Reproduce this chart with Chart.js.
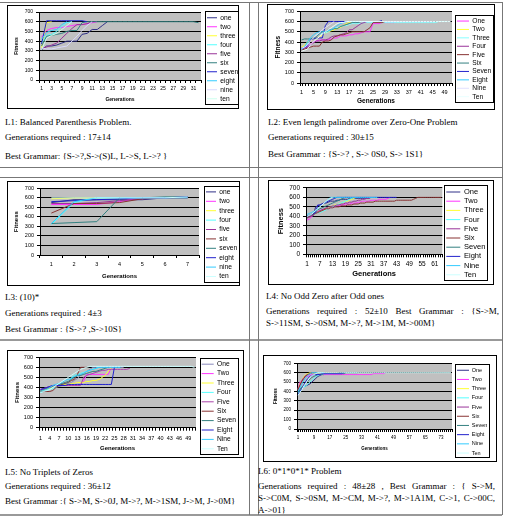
<!DOCTYPE html>
<html>
<head>
<meta charset="utf-8">
<script src="https://cdn.jsdelivr.net/npm/chart.js@4.4.1/dist/chart.umd.min.js"></script>
<style>
  body { margin: 0; width: 506px; height: 519px; background: #fff; position: relative; overflow: hidden;
         font-family: "Liberation Serif", "Times New Roman", serif; }
  .hl { position: absolute; height: 0; border-top: 1px solid #777; }
  .vl { position: absolute; width: 0; border-left: 1px solid #777; }
  .frame { position: absolute; border: 1px solid #000; background: #fff; box-sizing: border-box; }
  canvas { position: absolute; }
  .t { position: absolute; font-size: 9px; line-height: 11px; white-space: nowrap; color: #000; }
  .j { text-align: justify; text-align-last: justify; }
</style>
</head>
<body>

<!-- table rules -->
<div class="hl" style="left:0;top:2px;width:502px"></div>
<div class="hl" style="left:0;top:167px;width:502px"></div>
<div class="hl" style="left:0;top:177px;width:502px"></div>
<div class="hl" style="left:0;top:339px;width:502px;border-top:2px solid #999"></div>
<div class="hl" style="left:0;top:514px;width:502px;border-top:2px solid #999"></div>
<div class="vl" style="left:249px;top:2px;height:513px"></div>
<div class="vl" style="left:258px;top:2px;height:513px"></div>
<div class="vl" style="left:502px;top:2px;height:513px"></div>

<!-- chart frames -->
<div class="frame" style="left:7px;top:5px;width:232px;height:104px"></div>
<div class="frame" style="left:267px;top:4px;width:228px;height:106px"></div>
<div class="frame" style="left:7px;top:181px;width:233px;height:105px"></div>
<div class="frame" style="left:268px;top:180px;width:226px;height:105px"></div>
<div class="frame" style="left:7px;top:350px;width:237px;height:108px"></div>
<div class="frame" style="left:263px;top:355px;width:234px;height:107px"></div>

<canvas id="c1"></canvas>
<canvas id="c2"></canvas>
<canvas id="c3"></canvas>
<canvas id="c4"></canvas>
<canvas id="c5"></canvas>
<canvas id="c6"></canvas>

<!-- captions -->
<div class="t" style="left:5px;top:116.5px">L1: Balanced Parenthesis Problem.</div>
<div class="t" style="left:5px;top:131.5px">Generations required : 17±14</div>
<div class="t" style="left:5px;top:150.5px">Best Grammar: {S-&gt;?,S-&gt;(S)L, L-&gt;S, L-&gt;? }</div>

<div class="t" style="left:268px;top:116.5px">L2: Even length palindrome over Zero-One Problem</div>
<div class="t" style="left:268px;top:131.5px">Generations required : 30±15</div>
<div class="t" style="left:268px;top:148.5px">Best Grammar : {S-&gt;? , S-&gt; 0S0, S-&gt; 1S1}</div>

<div class="t" style="left:5px;top:291.5px">L3: (10)*</div>
<div class="t" style="left:5px;top:307.5px">Generations required : 4±3</div>
<div class="t" style="left:5px;top:323.5px">Best Grammar : {S-&gt;? ,S-&gt;10S}</div>

<div class="t" style="left:266px;top:290.5px">L4: No Odd Zero after Odd ones</div>
<div class="t j" style="left:266px;top:305.5px;width:233px">Generations required : 52±10 Best Grammar : {S-&gt;M,</div>
<div class="t" style="left:266px;top:317.5px">S-&gt;11SM, S-&gt;0SM, M-&gt;?, M-&gt;1M, M-&gt;00M}</div>

<div class="t" style="left:5px;top:466.5px">L5: No Triplets of Zeros</div>
<div class="t" style="left:5px;top:480.5px">Generations required : 36±12</div>
<div class="t" style="left:5px;top:495.5px">Best Grammar :{ S-&gt;M, S-&gt;0J, M-&gt;?, M-&gt;1SM, J-&gt;M, J-&gt;0M}</div>

<div class="t" style="left:258px;top:465.5px">L6: 0*1*0*1* Problem</div>
<div class="t j" style="left:258px;top:480.5px;width:237px">Generations required : 48±28 , Best Grammar : { S-&gt;M,</div>
<div class="t j" style="left:258px;top:492.5px;width:237px">S-&gt;C0M, S-&gt;0SM, M-&gt;CM, M-&gt;?, M-&gt;1A1M, C-&gt;1, C-&gt;00C,</div>
<div class="t" style="left:258px;top:504.5px">A-&gt;01}</div>

<script>
// ---------- data ----------
const lowerNames = ['one', 'two', 'three', 'four', 'five', 'six', 'seven', 'eight', 'nine', 'ten'];
const upperNames = ['One', 'Two', 'Three', 'Four', 'Five', 'Six', 'Seven', 'Eight', 'Nine', 'Ten'];
const yTicks = [0, 100, 200, 300, 400, 500, 600, 700];

// L1
const l1Count = 32;
const l1Ticks = ['1', '3', '5', '7', '9', '11', '13', '15', '17', '19', '21', '23', '25', '27', '29', '31'];
const l1Values = [
  [310, 350, 350, 360, 380, 400, 400, 400, 470, 480, 520, 520, 560, 600],
  [440, 510, 530, 540, 540, 550, 560, 570, 570, 580, 590, 600],
  [330, 590, 600],
  [380, 460, 470, 500, 550, 590, 600],
  [320, 340, 360, 380, 430, 480, 530, 570, 570, 580, 600],
  [350, 450, 460, 470, 480, 500, 510, 510, 590,
   600, 600, 600, 600, 600, 600, 600, 600, 600, 600,
   600, 600, 600, 600, 600, 600, 600, 600, 600, 600,
   600, 600, 590],
  [370, 610, 610, 610, 610, 610, 610, 610, 610, 600],
  [420, 490, 510, 520, 570, 600],
  [330, 320, 320, 330, 340, 350, 400, 450, 510, 560, 600],
  [310, 430, 460, 480, 520, 560, 600]
];

// L2
const l2Count = 51;
const l2Ticks = ['1', '5', '9', '13', '17', '21', '25', '29', '33', '37', '41', '45', '49'];
const l2Values = [
  [330, 340, 350, 380, 400, 410, 420, 420, 420, 420, 430, 440, 440, 460, 460, 460, 470, 470, 480, 480,
   490, 500, 500, 500, 580, 580, 580, 590, 590, 590, 590, 590, 600],
  [350, 370, 400, 410, 430, 440, 450, 470, 490, 500, 510, 520, 530, 540, 560, 580, 590, 600],
  [320, 360, 380, 420, 440, 470, 480, 480, 490, 500, 520, 540, 540, 550, 560, 560, 570, 580, 580, 580,
   580, 590, 590, 590, 590, 590, 590, 590, 590, 590, 590, 590, 590, 590, 590, 590, 590, 590, 590, 590,
   590, 590, 590, 590, 590, 590, 600, 600, 600, 600],
  [330, 340, 350, 370, 390, 410, 410, 420, 420, 430, 450, 460, 460, 470, 480, 490, 520, 520, 540, 560,
   580, 590, 600, 600, 600, 600, 600, 600, 600, 600, 600, 600, 600, 600, 600, 600, 600, 600, 600, 600,
   600, 600, 600, 600, 600],
  [320, 330, 340, 350, 360, 360, 360, 400, 410, 410, 420, 450, 460, 470, 470, 480, 490, 500, 500, 500,
   500, 500, 520, 540, 590, 590, 590, 590, 600],
  [420, 430, 430, 430, 440, 450, 480, 500, 500, 520, 520, 530, 530, 550, 560, 570, 580, 590, 590, 590, 600],
  [340, 350, 360, 420, 430, 440, 440, 440, 560, 600, 600, 600, 600, 600, 600, 600, 600, 600, 600, 600,
   600, 600, 600, 600, 600, 600, 600, 610],
  [330, 350, 400, 440, 470, 490, 500, 500, 500, 510, 520, 540, 560, 580, 590, 600, 600, 600, 600, 600,
   600, 600, 600, 600, 600, 600],
  [340, 350, 370, 410, 440, 470, 490, 520, 540, 560, 580, 600],
  [310, 320, 330, 370, 400, 430, 450, 480, 500, 520, 540, 560, 580, 590, 590, 600, 600, 600, 600, 600,
   600, 600, 600, 600, 600, 600, 600, 600, 600, 600, 600, 600, 600, 600, 600, 600, 600, 600, 600, 600,
   600, 600, 600, 600, 600, 600, 600, 600, 600, 600, 600]
];

// L3
const l3Count = 7;
const l3Ticks = ['1', '2', '3', '4', '5', '6', '7'];
const l3Values = [
  [550, 580, 580, 580, 580, 600, 610],
  [530, 530, 530, 560, 600, 600, 600],
  [590, 600, 600, 600, 600, 600, 600],
  [320, 550, 600, 600, 600, 600, 600],
  [540, 540, 550, 570, 590, 600, 600],
  [440, 540, 540, 550, 590, 600, 600],
  [330, 340, 350, 600, 600, 610, 610],
  [560, 570, 580, 590, 600, 600, 610],
  [330, 560, 600, 600, 600, 600, 600],
  [600, 600, 600, 600, 600, 600, 610]
];

// L4
const l4Count = 64;
const l4Ticks = ['1', '7', '13', '19', '25', '31', '37', '43', '49', '55', '61'];
const l4Values = [
  [390, 400, 400, 410, 500, 510, 520, 530, 540, 540, 550, 560, 560, 560, 570, 570, 580, 580, 580, 580,
   590, 590, 590, 590, 590, 590, 590, 590, 590, 590, 600],
  [360, 370, 390, 420, 430, 450, 460, 470, 470, 480, 480, 490, 500, 500, 510, 510, 520, 520, 530, 530,
   530, 540, 540, 540, 550, 550, 560, 560, 560, 560, 570, 570, 570, 570, 580, 580, 580, 580, 590, 600],
  [400, 410, 420, 430, 440, 450, 450, 460, 470, 480, 490, 500, 510, 520, 520, 530, 540, 550, 560, 560,
   570, 580, 590, 600],
  [400, 410, 410, 420, 430, 440, 440, 450, 460, 470, 480, 490, 500, 510, 520, 530, 540, 550, 560, 570,
   580, 590, 600],
  [380, 390, 400, 420, 440, 450, 460, 470, 480, 490, 500, 500, 510, 510, 520, 520, 530, 530, 540, 540,
   550, 550, 560, 560, 570, 570, 580, 580, 590, 590, 600],
  [390, 400, 410, 420, 430, 440, 450, 460, 470, 480, 480, 490, 490, 500, 500, 500, 510, 510, 510, 520,
   520, 520, 530, 530, 530, 540, 540, 540, 550, 550, 550, 550, 560, 560, 560, 560, 560, 560, 560, 560,
   560, 560, 570, 570, 570, 570, 570, 570, 570, 570, 580, 590, 600, 600, 600, 600, 600, 600, 600, 600,
   600, 600, 600, 600],
  [410, 410, 420, 430, 450, 470, 480, 490, 500, 510, 520, 530, 540, 550, 560, 570, 580, 590, 600],
  [400, 410, 420, 430, 440, 520, 520, 530, 540, 550, 560, 570, 580, 590, 600, 600, 600, 600, 600, 600,
   600, 600, 600, 600, 600, 600, 600, 600, 600, 600, 600, 600, 600, 600, 600, 600, 600, 600, 600, 600,
   600, 600, 600],
  [420, 430, 440, 450, 460, 480, 500, 520, 540, 560, 580, 600, 600, 600, 600, 600, 600, 600, 600, 600,
   600, 600, 600, 600, 600, 600, 600, 600, 600, 600, 600, 600, 600, 600],
  [400, 410, 420, 440, 460, 480, 500, 520, 540, 560, 580, 590, 600]
];

// L5
const l5Count = 51;
const l5Ticks = ['1', '4', '7', '10', '13', '16', '19', '22', '25', '28', '31', '34', '37', '40', '43', '46', '49'];
const l5Values = [
  [370, 370, 380, 390, 400, 400, 410, 420, 430, 440, 450, 470, 490, 520, 540, 560, 580, 600, 600, 600,
   600, 600, 600, 600, 600, 600, 600, 600],
  [380, 380, 390, 400, 410, 420, 420, 420, 420, 420, 420, 420, 420, 430, 460, 530, 530, 530, 530, 530,
   530, 530, 530, 600],
  [360, 370, 380, 390, 400, 420, 430, 430, 430, 430, 440, 440, 450, 450, 450, 460, 460, 470, 470, 480,
   500, 520, 560, 600],
  [350, 360, 370, 380, 390, 400, 420, 430, 440, 450, 500, 520, 530, 540, 550, 560, 570, 580, 590, 600],
  [380, 390, 400, 410, 420, 420, 420, 420, 420, 420, 420, 420, 420, 420, 500, 520, 530, 540, 550, 560,
   570, 570, 580, 580, 580, 580, 580, 580, 580, 590],
  [360, 360, 360, 360, 370, 400, 420, 430, 440, 450, 470, 480, 530, 600, 600, 600],
  [370, 380, 390, 400, 410, 420, 430, 440, 450, 460, 480, 500, 520, 520, 530, 540, 550, 560, 560, 570,
   580, 590, 600],
  [380, 390, 400, 410, 420, 420, 420, 420, 420, 430, 430, 430, 430, 430, 430, 430, 430, 430, 430, 430,
   430, 430, 430, 430, 600],
  [360, 370, 380, 400, 420, 430, 440, 450, 470, 480, 490, 510, 520, 530, 540, 560, 570, 580, 590, 600,
   600, 600, 600, 600, 600, 600, 600],
  [350, 360, 370, 380, 400, 420, 440, 460, 480, 500, 520, 540, 560, 580, 590, 600, 610, 610, 610, 610,
   610, 610, 610, 610, 610, 610, 610, 610, 610, 610, 610, 610, 610, 610, 610, 610, 610, 610, 610, 610,
   610, 610, 610, 610, 610, 610, 610, 610, 610, 610, 600]
];

// L6
const l6Count = 78;
const l6Ticks = ['1', '9', '17', '25', '33', '41', '49', '57', '65', '73'];
const l6Values = [
  [400, 420, 440, 450, 460, 470, 480, 500, 520, 540, 560, 570, 580, 580, 590, 590, 590, 590, 590, 590,
   590, 590, 590, 590, 600],
  [430, 500, 520, 540, 560, 560, 570, 580, 580, 580, 580, 580, 580, 580, 580, 580, 580, 580, 580, 580,
   580, 580, 580, 580, 580, 580, 580, 580, 580, 580, 580, 580, 580, 580, 580, 580, 580, 580, 590, 590,
   590, 590, 590, 590, 600],
  [420, 480, 520, 560, 580, 590, 600, 600, 600, 600, 600, 600, 600, 600, 600, 600, 600, 600, 600, 600, 600],
  [380, 400, 430, 450, 460, 480, 500, 520, 540, 560, 570, 580, 580, 590, 590, 590, 590, 600],
  [410, 460, 520, 550, 570, 580, 590, 600],
  [420, 470, 510, 540, 570, 580, 590, 600, 600, 600, 600, 600, 600, 600, 600, 600, 600, 600, 600, 600, 600],
  [390, 420, 450, 470, 490, 510, 530, 550, 560, 570, 580, 580, 580, 590, 590, 590, 590, 590, 590, 590,
   590, 590, 590, 590, 600, 600, 600, 600, 600, 600, 600],
  [370, 400, 430, 470, 510, 540, 560, 570, 580, 580, 580, 580, 590, 590, 590, 590, 590, 590, 590, 590,
   590, 590, 590, 600],
  [400, 440, 480, 520, 550, 570, 590, 600, 600, 600, 600, 600, 600, 600],
  [360, 390, 420, 460, 490, 520, 550, 570, 580, 590, 600, 600, 600, 600, 600, 600, 600, 600, 600, 600,
   600, 600, 600, 600, 600, 600, 600, 600, 600, 600, 600, 600, 600, 600, 600, 600, 600, 600, 600, 600,
   600, 600, 600, 600, 600, 600, 600, 600, 600, 600, 600, 600, 600, 600, 600, 600, 600, 600, 600, 600,
   600, 600, 600, 600, 600, 600, 600, 600, 600, 600, 600, 600, 600, 600, 600, 600, 600, 600]
];

// ---------- styles ----------
const colorsA = ['#303088', '#ff33ff', '#ffff33', '#55ffff', '#993399', '#338080', '#2222cc', '#33ccff', '#d8d8ff', '#ccffee'];
const colorsB = ['#ff33ff', '#ffff33', '#88ffff', '#993399', '#883333', '#338080', '#2222cc', '#33ccff', '#e0e0ff', '#eaffff'];
const colorsC = ['#303088', '#ff33ff', '#ffff33', '#55ffff', '#993399', '#883333', '#338080', '#2222cc', '#33ccff', '#ccffff'];
const colorsD = ['#8888bb', '#ff33ff', '#ffff33', '#55ffff', '#aa44aa', '#883333', '#338080', '#2222cc', '#33ccff', '#ccffff'];

Chart.defaults.font.family = '"Liberation Sans", Arial, sans-serif';
Chart.defaults.color = '#000';

// grey plot area like the old spreadsheet charts
const plotBg = {
  id: 'plotBg',
  beforeDraw(chart) {
    const a = chart.chartArea, ctx = chart.ctx;
    ctx.save();
    ctx.fillStyle = '#c0c0c0';
    ctx.fillRect(a.left, a.top, a.right - a.left, a.bottom - a.top);
    ctx.restore();
  }
};

// nudge the legend and put a box round it
const legendFrame = {
  id: 'legendFrame',
  afterLayout(chart, args, opts) {
    chart.legend.left += opts.dx;
    chart.legend.right += opts.dx;
  },
  afterDraw(chart) {
    const boxes = chart.legend.legendHitBoxes;
    if (!boxes || !boxes.length) return;
    let x0 = Infinity, y0 = Infinity, x1 = -Infinity, y1 = -Infinity;
    boxes.forEach(h => {
      x0 = Math.min(x0, h.left); y0 = Math.min(y0, h.top);
      x1 = Math.max(x1, h.left + h.width); y1 = Math.max(y1, h.top + h.height);
    });
    const ctx = chart.ctx;
    ctx.save();
    ctx.strokeStyle = '#000';
    ctx.lineWidth = 1;
    ctx.strokeRect(Math.round(x0 - 2) + 0.5, Math.round(y0 - 3) + 0.5,
                   Math.round(x1 - x0 + 4), Math.round(y1 - y0 + 5));
    ctx.restore();
  }
};

function buildChart(id, g, count, ticks, names, values, colors) {
  const canvas = document.getElementById(id);
  canvas.width = g.cw; canvas.height = g.ch;
  canvas.style.left = g.cx + 'px'; canvas.style.top = g.cy + 'px';

  const cats = Array.from({length: count}, (_, i) => String(i + 1));
  const padL = 2, padR = 0, padB = 1, yPad = 3, tickLen = 3;
  const padT = Math.max(0, (g.t - g.cy) - (0.6 * g.tick + yPad));
  const yWidth = g.l - g.cx - padL;
  const xHeight = (g.cy + g.ch - padB) - g.b;
  const legendW = (g.cx + g.cw - padR) - g.r;

  new Chart(canvas, {
    type: 'line',
    data: {
      labels: cats,
      datasets: values.map((v, i) => ({
        label: names[i],
        data: v,
        borderColor: colors[i],
        backgroundColor: colors[i],
        borderWidth: 1,
        pointRadius: 0,
        tension: 0,
        fill: false,
        order: 10 - i
      }))
    },
    options: {
      responsive: false,
      animation: false,
      devicePixelRatio: 1,
      layout: { padding: { left: padL, right: padR, top: padT, bottom: padB } },
      plugins: {
        tooltip: { enabled: false },
        legendFrame: { dx: g.legX - (g.r + g.legPad) },
        legend: {
          position: 'right',
          maxWidth: legendW,
          labels: {
            usePointStyle: true,
            pointStyle: 'line',
            pointStyleWidth: g.legLine,
            padding: g.legPad,
            color: '#000',
            font: { size: g.legFont },
            sort: (a, b) => a.datasetIndex - b.datasetIndex
          }
        }
      },
      scales: {
        x: {
          type: 'category',
          offset: true,
          afterFit: s => { s.height = xHeight; },
          grid: { display: true, drawOnChartArea: false, drawTicks: true, tickLength: tickLen,
                  offset: true, color: '#000' },
          border: { display: true, color: '#000' },
          ticks: {
            autoSkip: false, maxRotation: 0, minRotation: 0,
            padding: Math.max(0, g.xLab - g.b - tickLen - 0.6 * g.tick),
            font: { size: g.tick },
            callback: function (value) {
              const lab = this.getLabelForValue(value);
              return ticks.includes(lab) ? lab : '';
            }
          },
          title: {
            display: true, text: 'Generations',
            font: { size: g.title, weight: 'bold' },
            padding: { top: 0, bottom: Math.max(0, (g.cy + g.ch - padB) - g.gen - 0.6 * g.title) }
          }
        },
        y: {
          min: 0, max: 700,
          afterFit: s => { s.width = yWidth; },
          afterBuildTicks: s => { s.ticks = yTicks.map(v => ({value: v})); },
          grid: { color: '#000', lineWidth: 1, tickLength: tickLen, drawTicks: true },
          border: { display: true, color: '#000' },
          ticks: { autoSkip: false, padding: yPad, font: { size: g.tick } },
          title: {
            display: true, text: 'Fitness',
            font: { size: g.title, weight: 'bold' },
            padding: { top: Math.max(0, g.fit - (g.cx + padL) - 0.6 * g.title), bottom: 0 }
          }
        }
      }
    },
    plugins: [plotBg, legendFrame]
  });
}

// geometry in page pixels: canvas box, plot box, label centres, font sizes
buildChart('c1', { cx: 8, cy: 6, cw: 230, ch: 102, l: 39, t: 15.5, r: 201, b: 80,
  fit: 17, xLab: 89, gen: 100, tick: 5, title: 5, legFont: 6.7, legPad: 2.3, legLine: 10, legX: 207 },
  l1Count, l1Ticks, lowerNames, l1Values, colorsA);

buildChart('c2', { cx: 268, cy: 5, cw: 226, ch: 104, l: 300, t: 16, r: 452, b: 83,
  fit: 278, xLab: 92.7, gen: 101.7, tick: 5.5, title: 6.5, legFont: 6.7, legPad: 1.7, legLine: 12, legX: 457 },
  l2Count, l2Ticks, upperNames, l2Values, colorsB);

buildChart('c3', { cx: 8, cy: 182, cw: 231, ch: 103, l: 40, t: 190.7, r: 199, b: 255,
  fit: 16.7, xLab: 264.3, gen: 276.7, tick: 5.5, title: 6, legFont: 6.7, legPad: 2.7, legLine: 10, legX: 206 },
  l3Count, l3Ticks, lowerNames, l3Values, colorsC);

buildChart('c4', { cx: 269, cy: 181, cw: 224, ch: 103, l: 306, t: 190.7, r: 437, b: 254.3,
  fit: 281, xLab: 264.3, gen: 274.3, tick: 6.5, title: 7.5, legFont: 7.5, legPad: 1.7, legLine: 14, legX: 441 },
  l4Count, l4Ticks, upperNames, l4Values, colorsC);

buildChart('c5', { cx: 8, cy: 351, cw: 235, ch: 106, l: 39, t: 363.3, r: 194.3, b: 427.7,
  fit: 17, xLab: 438, gen: 448, tick: 5.5, title: 6, legFont: 6.7, legPad: 2.7, legLine: 12, legX: 200 },
  l5Count, l5Ticks, upperNames, l5Values, colorsD);

buildChart('c6', { cx: 264, cy: 356, cw: 232, ch: 105, l: 297, t: 369, r: 452, b: 429,
  fit: 276, xLab: 438, gen: 449, tick: 4.5, title: 4.5, legFont: 5.5, legPad: 3.7, legLine: 12, legX: 457 },
  l6Count, l6Ticks, upperNames, l6Values, colorsC);
</script>
</body>
</html>
